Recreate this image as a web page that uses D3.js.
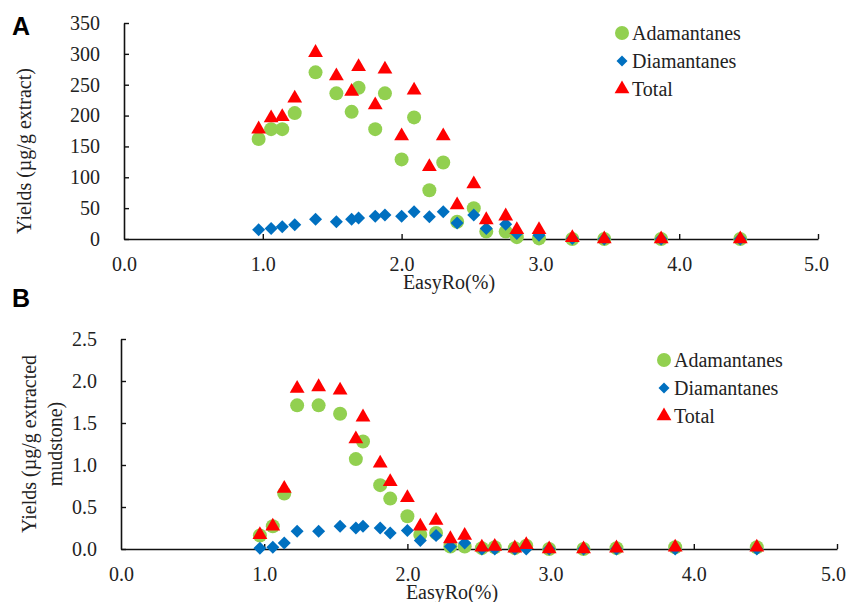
<!DOCTYPE html>
<html>
<head>
<meta charset="utf-8">
<script src="https://cdn.jsdelivr.net/npm/d3@7"></script>
<style>
  body { margin: 0; background: #fff; }
  text { font-family: "Liberation Serif", "Times New Roman", serif; font-size: 20px; fill: #222; }
</style>
</head>
<body>
<svg id="chart" width="848" height="602"></svg>
<script>
// EasyRo (%) of each sample, same set in both panels
var easyRo = [0.97, 1.06, 1.14, 1.23, 1.38, 1.53, 1.64, 1.69, 1.81, 1.88, 2.0, 2.09,
  2.2, 2.3, 2.4, 2.52, 2.61, 2.75, 2.83, 2.99, 3.23, 3.46, 3.87, 4.44];

// panel A: ug/g extract
var adamA = [162, 178, 178, 204, 270, 236, 206, 245, 178, 236, 129, 197,
  79, 124, 28, 50, 12, 12, 3, 1, 0, 0, 0, 0];
var diamA = [15, 17, 20, 23, 32, 28, 32, 34, 37, 39, 37, 44,
  36, 44, 26, 39, 17, 24, 9, 6, 1, 0, 0, 0];
var totalA = [178, 196, 198, 228, 302, 264, 239, 279, 217, 275, 167, 241,
  117, 167, 55, 89, 31, 37, 15, 15, 2, 0, 0, 0];

// panel B: ug/g extracted mudstone
var adamB = [0.16, 0.27, 0.66, 1.71, 1.71, 1.61, 1.07, 1.28, 0.76, 0.6, 0.39, 0.17,
  0.19, 0.03, 0.03, 0.01, 0.02, 0.01, 0.04, 0, 0, 0.01, 0.02, 0.02];
var diamB = [0.01, 0.02, 0.07, 0.21, 0.21, 0.27, 0.25, 0.27, 0.25, 0.19, 0.22, 0.1,
  0.16, 0.03, 0.07, 0, 0, 0, 0, 0, 0, 0, 0, 0];
var totalB = [0.17, 0.27, 0.72, 1.91, 1.93, 1.89, 1.31, 1.57, 1.02, 0.8, 0.61, 0.27,
  0.34, 0.12, 0.16, 0.02, 0.03, 0.01, 0.05, 0, 0, 0.01, 0.02, 0.02];

var seriesNames = ["Adamantanes", "Diamantanes", "Total"];
var xTicks = [0, 1, 2, 3, 4, 5];

var green = "#92d050", blue = "#0070c0", red = "#ff0000";

var svg = d3.select("#chart");

var triangle = d3.symbol().type(d3.symbolTriangle).size(95);
function diamond(s) {
  return "M0," + (-s) + "L" + s + ",0L0," + s + "L" + (-s) + ",0Z";
}

function drawPanel(p) {
  var g = svg.append("g");

  var x = d3.scaleLinear().domain([0, 5]).range([p.left, p.right]);
  var y = d3.scaleLinear().domain([0, p.yMax]).range([p.bottom, p.top]);

  // axes, ticks pointing inward
  var xAxis = g.append("g")
    .attr("transform", "translate(0," + p.bottom + ")")
    .call(d3.axisBottom(x).tickValues(xTicks).tickFormat(d3.format(".1f"))
      .tickSize(-5).tickSizeOuter(0).tickPadding(18));
  var yAxis = g.append("g")
    .attr("transform", "translate(" + p.left + ",0)")
    .call(d3.axisLeft(y).tickValues(p.yTicks).tickFormat(p.yFormat)
      .tickSize(-5).tickSizeOuter(0).tickPadding(24));

  [xAxis, yAxis].forEach(function(a) {
    a.attr("font-family", null).attr("font-size", null);
    a.select(".domain").attr("stroke", "#111").attr("stroke-width", 1.6);
    a.selectAll(".tick line").attr("stroke", "#111").attr("stroke-width", 1.4);
    a.selectAll(".tick text").attr("fill", "#222");
  });
  xAxis.select(".tick line").remove(); // 0.0 tick sits on the y axis
  xAxis.selectAll(".tick text").filter(d => d === 5).attr("dx", p.lastDx);

  // marks: green, then blue, then red on top
  var pts = easyRo.map(function(r, i) {
    return { x: r, a: p.adam[i], d: p.diam[i], t: p.total[i] };
  });
  g.selectAll(".adam").data(pts).enter().append("circle")
    .attr("cx", d => x(d.x)).attr("cy", d => y(d.a)).attr("r", 7).attr("fill", green);
  g.selectAll(".diam").data(pts).enter().append("path")
    .attr("d", diamond(6.5))
    .attr("transform", d => "translate(" + x(d.x) + "," + y(d.d) + ")")
    .attr("fill", blue);
  g.selectAll(".tot").data(pts).enter().append("path")
    .attr("d", triangle)
    .attr("transform", d => "translate(" + x(d.x) + "," + y(d.t) + ")")
    .attr("fill", red);

  // axis titles
  g.append("text").attr("x", p.xTitleX).attr("y", p.xTitleY)
    .attr("text-anchor", "middle").text("EasyRo(%)");
  var yt = g.append("text")
    .attr("transform", "translate(" + p.yTitleX + "," + p.yTitleY + ") rotate(-90)")
    .attr("text-anchor", "middle");
  p.yTitle.forEach(function(line, i) {
    yt.append("tspan").attr("x", 0).attr("y", i * 26).text(line);
  });

  // panel letter
  g.append("text").attr("x", 12).attr("y", p.letterY)
    .style("font-family", "'Liberation Sans', Arial, sans-serif")
    .style("font-weight", "bold").style("font-size", "25px").style("fill", "#000")
    .text(p.letter);

  // legend
  var lg = g.append("g").attr("transform", "translate(" + p.legX + "," + p.legY + ")");
  seriesNames.forEach(function(name, i) {
    var row = lg.append("g").attr("transform", "translate(0," + (i * 28) + ")");
    if (i === 0) row.append("circle").attr("r", 7).attr("fill", green);
    if (i === 1) row.append("path").attr("d", diamond(5.5)).attr("fill", blue);
    if (i === 2) row.append("path").attr("d", triangle).attr("fill", red);
    row.append("text").attr("x", 10).attr("y", 7).text(name);
  });
}

drawPanel({
  letter: "A", letterY: 35,
  left: 124, right: 818, top: 23, bottom: 239,
  yMax: 350, yTicks: d3.range(0, 351, 50), yFormat: d3.format("d"),
  adam: adamA, diam: diamA, total: totalA, lastDx: -2,
  xTitleX: 449, xTitleY: 289,
  yTitle: ["Yields (\u00b5g/g extract)"], yTitleX: 31, yTitleY: 151,
  legX: 622, legY: 33
});

drawPanel({
  letter: "B", letterY: 307,
  left: 121, right: 837, top: 339, bottom: 549,
  yMax: 2.5, yTicks: d3.range(0, 2.51, 0.5), yFormat: d3.format(".1f"),
  adam: adamB, diam: diamB, total: totalB, lastDx: -4,
  xTitleX: 452, xTitleY: 599,
  yTitle: ["Yields (\u00b5g/g extracted", "mudstone)"], yTitleX: 36, yTitleY: 444,
  legX: 664, legY: 360
});
</script>
</body>
</html>
